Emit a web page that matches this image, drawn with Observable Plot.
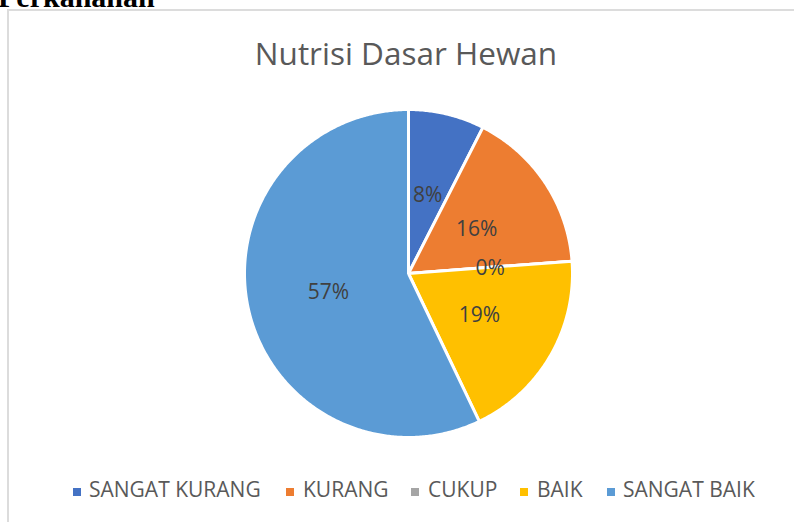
<!DOCTYPE html>
<html>
<head>
<meta charset="utf-8">
<script src="https://cdn.jsdelivr.net/npm/d3@7"></script>
<script src="https://cdn.jsdelivr.net/npm/@observablehq/plot@0.6"></script>
<style>
  html, body { margin: 0; padding: 0; background: #fff; }
  #wrap { position: relative; width: 794px; height: 522px; overflow: hidden; background: #fff; }
  #frame { position: absolute; left: 7px; top: 9px; width: 1000px; height: 800px; border: 2px solid #dcdcdc; box-sizing: border-box; }
  #head { position: absolute; left: -2px; top: -20px; font-family: "Liberation Serif", "DejaVu Serif", serif; font-weight: bold; font-size: 30px; line-height: normal; color: #000; white-space: nowrap; }
  #title { position: absolute; left: 9px; width: 794px; top: 31px; text-align: center; font-family: "Open Sans", sans-serif; font-size: 31.5px; line-height: normal; color: #595959; white-space: nowrap; }
  #chart { position: absolute; left: 0; top: 88px; }
  #legend { position: absolute; left: 0; top: 0; width: 794px; height: 522px; }
  .lg-sw { position: absolute; width: 8px; height: 8px; }
  .lg-tx { position: absolute; font-family: "Open Sans", sans-serif; font-size: 21px; line-height: normal; color: #595959; white-space: nowrap; }
</style>
</head>
<body>
<div id="wrap">
  <div id="frame"></div>
  <div id="head">Perkananan</div>
  <div id="title"></div>
  <div id="chart"></div>
  <div id="legend"></div>
</div>
<script>
// Data (shares estimated from the slice geometry; labels show them rounded)
const categories = ["SANGAT KURANG", "KURANG", "CUKUP", "BAIK", "SANGAT BAIK"];
const shares = [7.5, 16.3, 0, 19.1, 57.1];
const colors = ["#4472C4", "#ED7D31", "#A5A5A5", "#FFC000", "#5B9BD5"];
const chartTitle = "Nutrisi Dasar Hewan";

// Layout
const W = 794, H = 372;
const cx = 408, cy = 185, R = 164;

// Build slice polygons (center -> arc -> center) in unit-radius coordinates
const total = d3.sum(shares);
const slices = [];
const labels = [];
let acc = 0;
categories.forEach((cat, i) => {
  const a0 = acc / total * 2 * Math.PI;
  acc += shares[i];
  const a1 = acc / total * 2 * Math.PI;
  const pts = [{cat, x: 0, y: 0}];
  const n = Math.max(1, Math.ceil((a1 - a0) / (Math.PI / 360)));
  for (let k = 0; k <= n; k++) {
    const a = a0 + (a1 - a0) * k / n;
    pts.push({cat, x: Math.sin(a), y: Math.cos(a)});
  }
  pts.push({cat, x: 0, y: 0});
  slices.push(...pts);
  const am = (a0 + a1) / 2;
  labels.push({cat, x: 0.5 * Math.sin(am), y: 0.5 * Math.cos(am), text: Math.round(shares[i] / total * 100) + "%"});
});

const chart = Plot.plot({
  width: W,
  height: H,
  margin: 0,
  x: {domain: [-cx / R, (W - cx) / R], axis: null},
  y: {domain: [-(H - cy) / R, cy / R], axis: null},
  color: {domain: categories, range: colors},
  style: {background: "transparent", overflow: "visible"},
  marks: [
    Plot.line(slices, {x: "x", y: "y", z: "cat", fill: "cat", stroke: "white", strokeWidth: 3, strokeLinejoin: "round", curve: "linear"}),
    Plot.text(labels, {x: "x", y: "y", text: "text", fill: "#404040", fontSize: 21, fontFamily: "Open Sans", textAnchor: "middle", dy: 1})
  ]
});
document.getElementById("chart").appendChild(chart);
document.getElementById("title").textContent = chartTitle;

// Legend
const swX = [73, 286, 411, 520, 607];
const txX = [89, 303, 428, 537, 623];
const lg = document.getElementById("legend");
categories.forEach((cat, i) => {
  const sw = document.createElement("div");
  sw.className = "lg-sw";
  sw.style.left = swX[i] + "px";
  sw.style.top = "488px";
  sw.style.background = colors[i];
  lg.appendChild(sw);
  const tx = document.createElement("div");
  tx.className = "lg-tx";
  tx.style.left = txX[i] + "px";
  tx.style.top = "475px";
  tx.textContent = cat;
  lg.appendChild(tx);
});
</script>
</body>
</html>
